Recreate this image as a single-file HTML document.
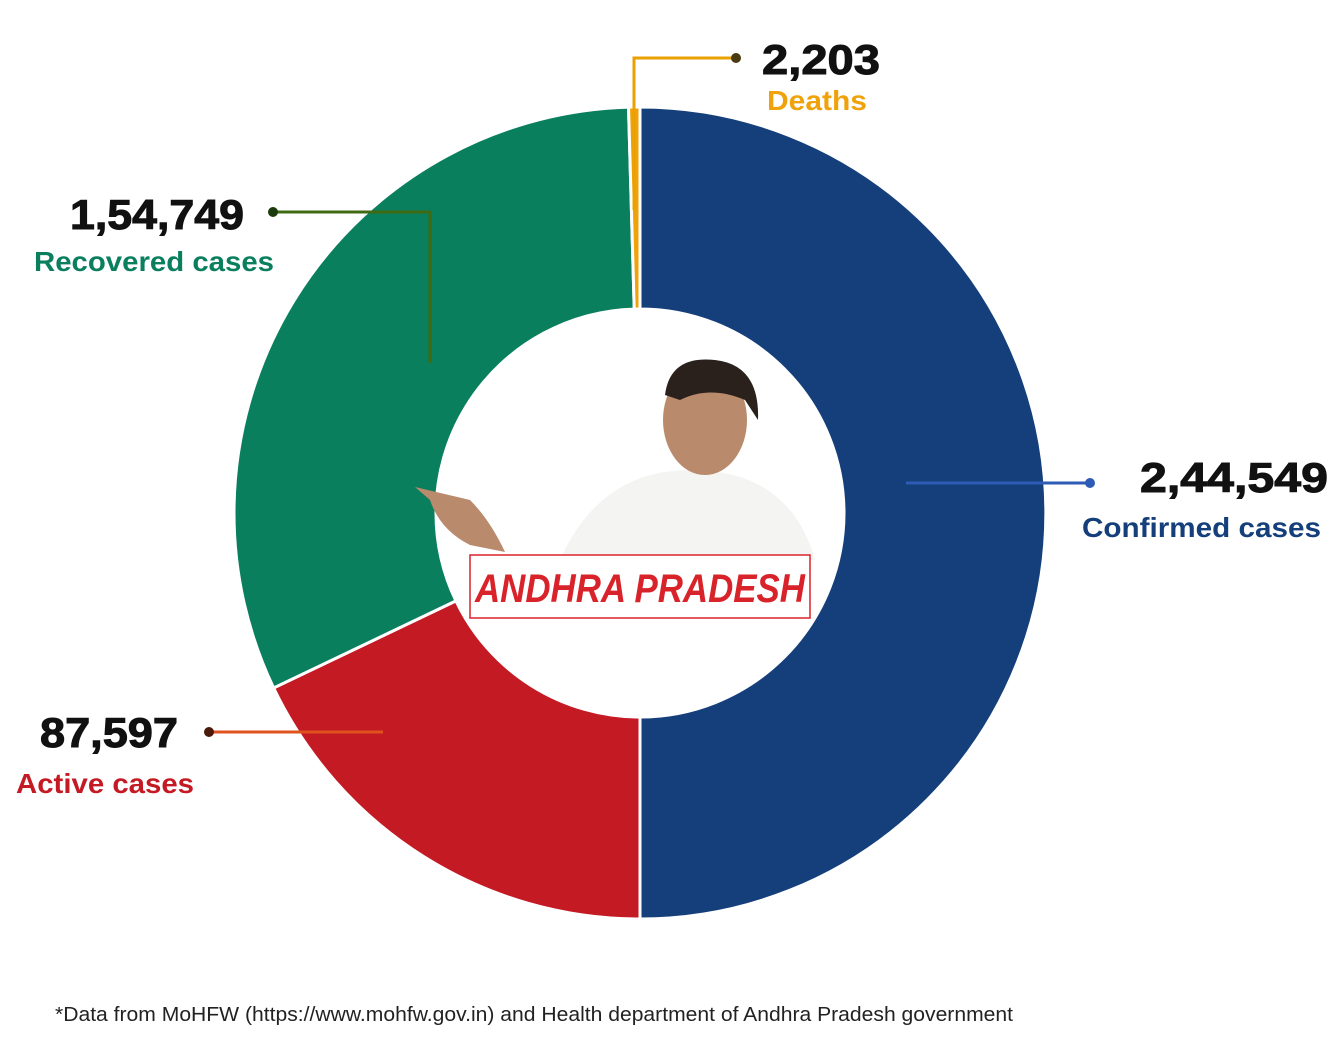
<!DOCTYPE html>
<html><head><meta charset="utf-8">
<style>
html,body{margin:0;padding:0;background:#fff;}
body{width:1331px;height:1055px;overflow:hidden;font-family:"Liberation Sans",sans-serif;}
svg{display:block;}
.num{font-weight:bold;font-size:42px;fill:#111;stroke:#111;stroke-width:1;}
.lab{font-weight:bold;font-size:28px;}
</style></head>
<body>
<svg id="chart" width="1331" height="1055">
  <g id="slices"></g>
  <g id="center">
    <path d="M560 560 Q600 470 690 470 Q790 470 815 560 Z" fill="#f4f4f2"/>
    <ellipse cx="705" cy="420" rx="42" ry="55" fill="#b98a6c"/>
    <path d="M665 395 Q670 355 715 360 Q760 365 758 420 L745 400 Q710 385 680 400 Z" fill="#2a211c"/>
    <path d="M415 487 L470 500 Q490 520 505 552 L470 545 Q440 530 430 500 Z" fill="#b98a6c"/>
    <rect x="470" y="555" width="340" height="63" fill="#fff" stroke="#d9232a" stroke-width="1.5"/>
    <text x="475" y="602" textLength="330" lengthAdjust="spacingAndGlyphs" font-size="40" font-weight="bold" font-style="italic" fill="#d9232a">ANDHRA PRADESH</text>
  </g>
  <g>
    <polyline points="736,58 634,58 634,210" fill="none" stroke="#e8a100" stroke-width="3"/>
    <circle cx="736" cy="58" r="5" fill="#4a3a10"/>
    <polyline points="273,212 430,212 430,363" fill="none" stroke="#3f6a14" stroke-width="3"/>
    <circle cx="273" cy="212" r="5" fill="#1c3b0c"/>
    <line x1="209" y1="732" x2="383" y2="732" stroke="#e0521c" stroke-width="3"/>
    <circle cx="209" cy="732" r="5" fill="#4a1a0a"/>
    <line x1="906" y1="483" x2="1090" y2="483" stroke="#2d5bb5" stroke-width="3"/>
    <circle cx="1090" cy="483" r="5" fill="#2d5bb5"/>
  </g>
  <text class="num" x="762" y="74" textLength="118" lengthAdjust="spacingAndGlyphs">2,203</text>
  <text class="lab" x="767" y="110" textLength="100" lengthAdjust="spacingAndGlyphs" fill="#f0a20a">Deaths</text>
  <text class="num" x="70" y="229" textLength="174" lengthAdjust="spacingAndGlyphs">1,54,749</text>
  <text class="lab" x="34" y="271" textLength="240" lengthAdjust="spacingAndGlyphs" fill="#0a7f5e">Recovered cases</text>
  <text class="num" x="40" y="747" textLength="138" lengthAdjust="spacingAndGlyphs">87,597</text>
  <text class="lab" x="16" y="793" textLength="178" lengthAdjust="spacingAndGlyphs" fill="#c41a24">Active cases</text>
  <text class="num" x="1140" y="492" textLength="188" lengthAdjust="spacingAndGlyphs">2,44,549</text>
  <text class="lab" x="1082" y="537" textLength="239" lengthAdjust="spacingAndGlyphs" fill="#143f7a">Confirmed cases</text>
  <text x="55" y="1021" font-size="20" textLength="958" lengthAdjust="spacingAndGlyphs" fill="#222">*Data from MoHFW (https://www.mohfw.gov.in) and Health department of Andhra Pradesh government</text>
</svg>
<script>
const categories = ["Confirmed cases","Active cases","Recovered cases","Deaths"];
const values = [244549, 87597, 154749, 2203];
const colors = ["#143f7a","#c41a24","#0a7f5e","#f0a20a"];
const cx = 640, cy = 513, R = 406, r = 204;
const total = values.reduce((a,b)=>a+b,0);
function pt(a, rad){ return [cx + rad*Math.sin(a), cy - rad*Math.cos(a)]; }
const g = document.getElementById('slices');
let acc = 0;
values.forEach((v,i)=>{
  const a0 = acc/total*2*Math.PI; acc += v;
  const a1 = acc/total*2*Math.PI;
  const large = (a1-a0) > Math.PI ? 1 : 0;
  const [x0,y0]=pt(a0,R),[x1,y1]=pt(a1,R),[x2,y2]=pt(a1,r),[x3,y3]=pt(a0,r);
  const p = document.createElementNS('http://www.w3.org/2000/svg','path');
  p.setAttribute('d',`M${x0},${y0} A${R},${R} 0 ${large} 1 ${x1},${y1} L${x2},${y2} A${r},${r} 0 ${large} 0 ${x3},${y3} Z`);
  p.setAttribute('fill',colors[i]);
  p.setAttribute('stroke','#fff');
  p.setAttribute('stroke-width','3');
  
  
  g.appendChild(p);
});
</script>
</body></html>
